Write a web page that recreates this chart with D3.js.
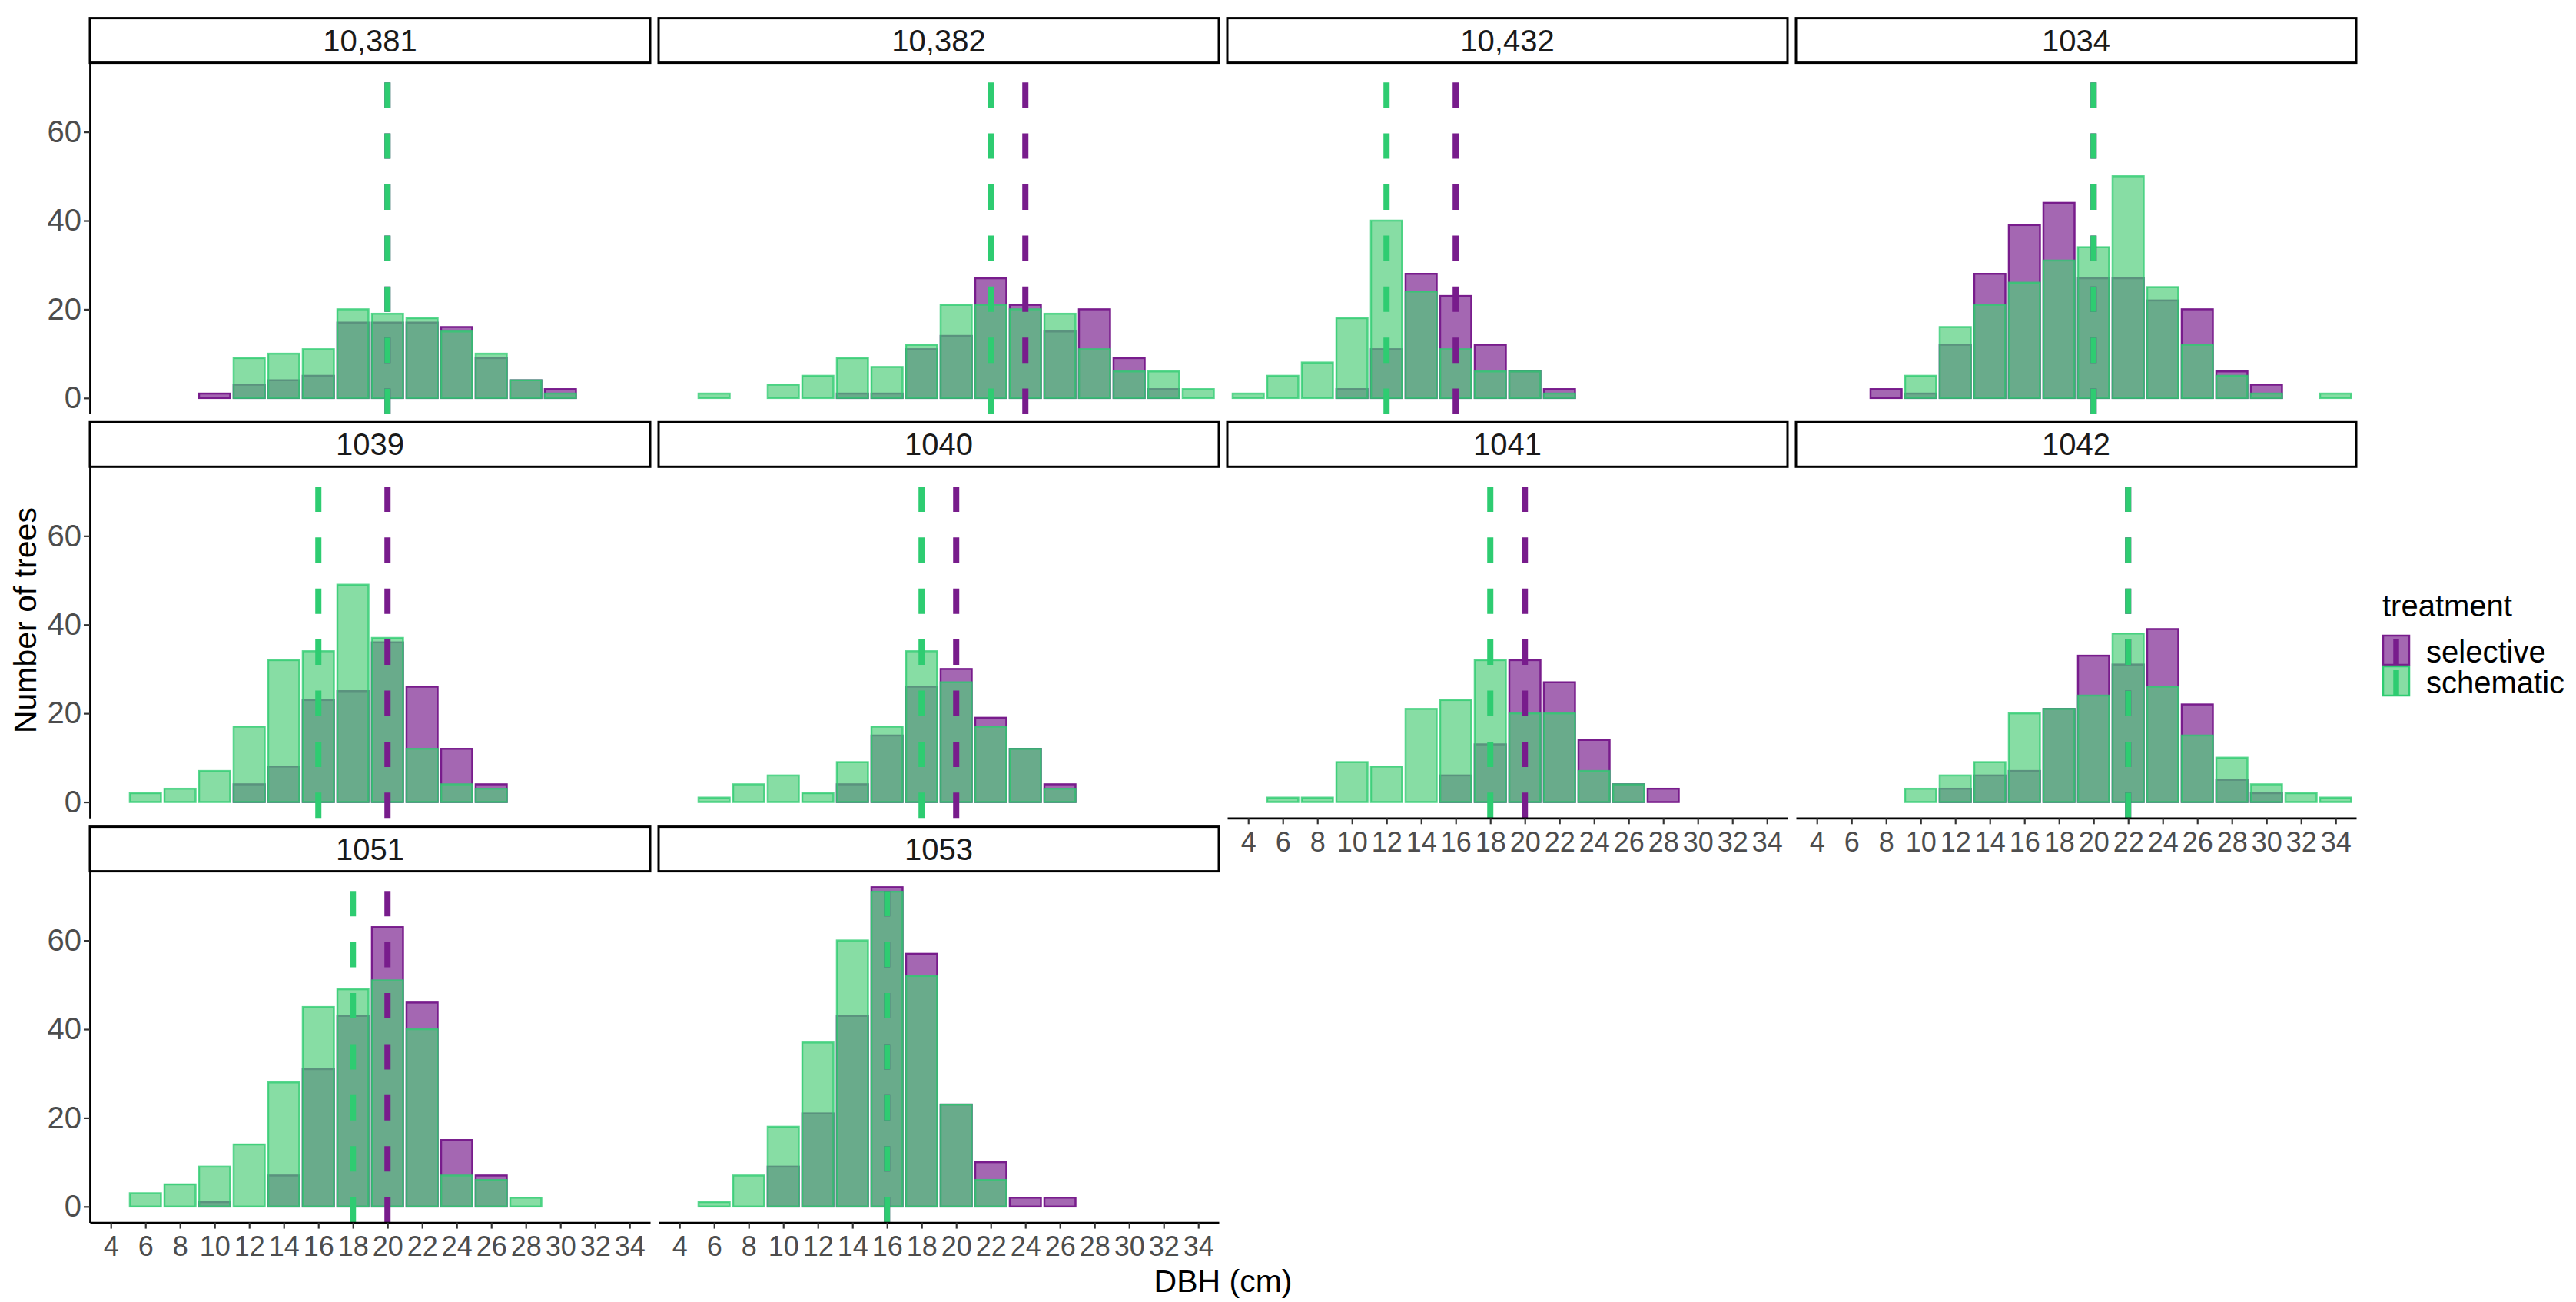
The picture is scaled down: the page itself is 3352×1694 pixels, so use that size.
<!DOCTYPE html>
<html>
<head>
<meta charset="utf-8">
<script src="https://cdn.jsdelivr.net/npm/d3@7"></script>
<style>
  body { margin: 0; background: #fff; }
  svg { display: block; font-family: "Liberation Sans", Arial, sans-serif; }
</style>
</head>
<body>
<svg id="chart"></svg>
<script>
// DBH classes (bin centres, cm)
const bins = [4, 6, 8, 10, 12, 14, 16, 18, 20, 22, 24, 26, 28, 30, 32, 34];

const sites = ['10,381', '10,382', '10,432', '1034', '1039', '1040', '1041', '1042', '1051', '1053'];

// counts per bin, one row per site
const selective = [
  [0, 0, 0, 1, 3, 4, 5, 17, 17, 17, 16, 9, 4, 2, 0, 0],
  [0, 0, 0, 0, 0, 1, 1, 11, 14, 27, 21, 15, 20, 9, 2, 0],
  [0, 0, 0, 2, 11, 28, 23, 12, 6, 2, 0, 0, 0, 0, 0, 0],
  [0, 0, 2, 1, 12, 28, 39, 44, 27, 27, 22, 20, 6, 3, 0, 0],
  [0, 0, 0, 0, 4, 8, 23, 25, 36, 26, 12, 4, 0, 0, 0, 0],
  [0, 0, 0, 0, 0, 4, 15, 26, 30, 19, 12, 4, 0, 0, 0, 0],
  [0, 0, 0, 0, 0, 0, 6, 13, 32, 27, 14, 4, 3, 0, 0, 0],
  [0, 0, 0, 0, 3, 6, 7, 21, 33, 31, 39, 22, 5, 2, 0, 0],
  [0, 0, 0, 1, 0, 7, 31, 43, 63, 46, 15, 7, 0, 0, 0, 0],
  [0, 0, 0, 9, 21, 43, 72, 57, 23, 10, 2, 2, 0, 0, 0, 0]
];

const schematic = [
  [0, 0, 0, 0, 9, 10, 11, 20, 19, 18, 15, 10, 4, 1, 0, 0],
  [0, 1, 0, 3, 5, 9, 7, 12, 21, 21, 20, 19, 11, 6, 6, 2],
  [1, 5, 8, 18, 40, 24, 11, 6, 6, 1, 0, 0, 0, 0, 0, 0],
  [0, 0, 0, 5, 16, 21, 26, 31, 34, 50, 25, 12, 5, 1, 0, 1],
  [0, 2, 3, 7, 17, 32, 34, 49, 37, 12, 4, 3, 0, 0, 0, 0],
  [0, 1, 4, 6, 2, 9, 17, 34, 27, 17, 12, 3, 0, 0, 0, 0],
  [0, 1, 1, 9, 8, 21, 23, 32, 20, 20, 7, 4, 0, 0, 0, 0],
  [0, 0, 0, 3, 6, 9, 20, 21, 24, 38, 26, 15, 10, 4, 2, 1],
  [0, 3, 5, 9, 14, 28, 45, 49, 51, 40, 7, 6, 2, 0, 0, 0],
  [0, 1, 7, 18, 37, 60, 71, 52, 23, 6, 0, 0, 0, 0, 0, 0]
];

// median DBH per site and treatment (dashed lines)
const medSelective = [20, 24, 16, 20, 20, 20, 20, 22, 20, 16];
const medSchematic = [20, 22, 12, 20, 16, 18, 18, 22, 18, 16];

const xTicks = [4, 6, 8, 10, 12, 14, 16, 18, 20, 22, 24, 26, 28, 30, 32, 34];
const yTicks = [0, 20, 40, 60];

const treatments = ['selective', 'schematic'];

const W = 3352, H = 1694;
const purple = '#781C8C';
const green = '#2ECC71';
const greenFill = '#4CCC77';
const alpha = 0.67;

const panelW = 729, panelH = 457, stripH = 58;
const colX = [117, 857, 1597, 2337];
const rowY = [23.6, 549.3, 1075.6];

const svg = d3.select('#chart')
  .attr('width', W)
  .attr('height', H);

svg.append('rect').attr('width', W).attr('height', H).attr('fill', '#fff');

const x = d3.scaleLinear().domain([2.79, 35.19]).range([0, panelW]);
const y = d3.scaleLinear().domain([-3.6, 75.6]).range([panelH, 0]);
const barW = x(1.8) - x(0);

sites.forEach((site, i) => {
  const col = i % 4, row = Math.floor(i / 4);
  const g = svg.append('g')
    .attr('transform', `translate(${colX[col]},${rowY[row]})`);

  // strip
  g.append('rect')
    .attr('x', 0).attr('y', 0)
    .attr('width', panelW).attr('height', stripH)
    .attr('fill', '#fff')
    .attr('stroke', '#000')
    .attr('stroke-width', 3);
  g.append('text')
    .attr('x', panelW / 2).attr('y', stripH / 2 + 14)
    .attr('text-anchor', 'middle')
    .attr('font-size', 40)
    .attr('fill', '#1a1a1a')
    .text(site);

  const p = g.append('g').attr('transform', `translate(0,${stripH})`);

  const sel = bins.map((b, k) => ({ b, n: selective[i][k] })).filter(d => d.n > 0);
  const sch = bins.map((b, k) => ({ b, n: schematic[i][k] })).filter(d => d.n > 0);

  p.selectAll('rect.sel')
    .data(sel)
    .enter()
    .append('rect')
    .attr('class', 'sel')
    .attr('x', d => x(d.b) - barW / 2)
    .attr('width', barW)
    .attr('y', d => y(d.n))
    .attr('height', d => y(0) - y(d.n))
    .attr('fill', purple)
    .attr('fill-opacity', alpha)
    .attr('stroke', purple)
    .attr('stroke-width', 2.5);

  p.selectAll('rect.sch')
    .data(sch)
    .enter()
    .append('rect')
    .attr('class', 'sch')
    .attr('x', d => x(d.b) - barW / 2)
    .attr('width', barW)
    .attr('y', d => y(d.n))
    .attr('height', d => y(0) - y(d.n))
    .attr('fill', greenFill)
    .attr('fill-opacity', alpha)
    .attr('stroke', green)
    .attr('stroke-opacity', 0.8)
    .attr('stroke-width', 2.5);

  // median lines, dash pattern starting at the panel bottom
  [[medSelective[i], purple], [medSchematic[i], green]].forEach(([m, c]) => {
    p.append('line')
      .attr('x1', x(m)).attr('x2', x(m))
      .attr('y1', panelH).attr('y2', 0)
      .attr('stroke', c)
      .attr('stroke-width', 8)
      .attr('stroke-dasharray', '33,33.4');
  });

  // y axis on first column
  if (col === 0) {
    const ax = p.append('g')
      .call(d3.axisLeft(y).tickValues(yTicks).tickSize(8).tickSizeOuter(0).tickPadding(3));
    ax.select('.domain').attr('stroke', '#000').attr('stroke-width', 2.8);
    ax.selectAll('.tick line').attr('stroke', '#333').attr('stroke-width', 2.2);
    ax.selectAll('.tick text')
      .attr('font-size', 40)
      .attr('font-family', '"Liberation Sans", Arial, sans-serif')
      .attr('fill', '#4d4d4d');
  }

  // x axis on panels with nothing below them
  if (i + 4 >= sites.length) {
    const ax = p.append('g')
      .attr('transform', `translate(0,${panelH})`)
      .call(d3.axisBottom(x).tickValues(xTicks).tickSize(8).tickSizeOuter(0).tickPadding(10));
    ax.select('.domain').attr('stroke', '#000').attr('stroke-width', 2.8);
    ax.selectAll('.tick line').attr('stroke', '#333').attr('stroke-width', 2.2);
    ax.selectAll('.tick text')
      .attr('font-size', 36)
      .attr('font-family', '"Liberation Sans", Arial, sans-serif')
      .attr('fill', '#4d4d4d');
  }
});

// axis titles
svg.append('text')
  .attr('x', (colX[0] + colX[3] + panelW) / 2)
  .attr('y', 1681)
  .attr('text-anchor', 'middle')
  .attr('font-size', 41)
  .attr('fill', '#000')
  .text('DBH (cm)');

svg.append('text')
  .attr('transform', `translate(47,${(rowY[0] + rowY[2] + stripH + panelH) / 2}) rotate(-90)`)
  .attr('text-anchor', 'middle')
  .attr('font-size', 41)
  .attr('fill', '#000')
  .text('Number of trees');

// legend
const lg = svg.append('g').attr('transform', 'translate(3100,0)');
lg.append('text')
  .attr('x', 0).attr('y', 802)
  .attr('font-size', 40)
  .attr('fill', '#000')
  .text('treatment');

const keyCol = { selective: [purple, purple], schematic: [greenFill, green] };
treatments.forEach((t, k) => {
  const ky = 827 + k * 40;
  lg.append('rect')
    .attr('x', 1).attr('y', ky)
    .attr('width', 34).attr('height', 38)
    .attr('fill', keyCol[t][0])
    .attr('fill-opacity', alpha)
    .attr('stroke', keyCol[t][1])
    .attr('stroke-width', 2.5);
  lg.append('line')
    .attr('x1', 18).attr('x2', 18)
    .attr('y1', ky + 5).attr('y2', ky + 38)
    .attr('stroke', keyCol[t][1])
    .attr('stroke-width', 7.5);
  lg.append('text')
    .attr('x', 57).attr('y', ky + 35)
    .attr('font-size', 40)
    .attr('fill', '#000')
    .text(t);
});
</script>
</body>
</html>
